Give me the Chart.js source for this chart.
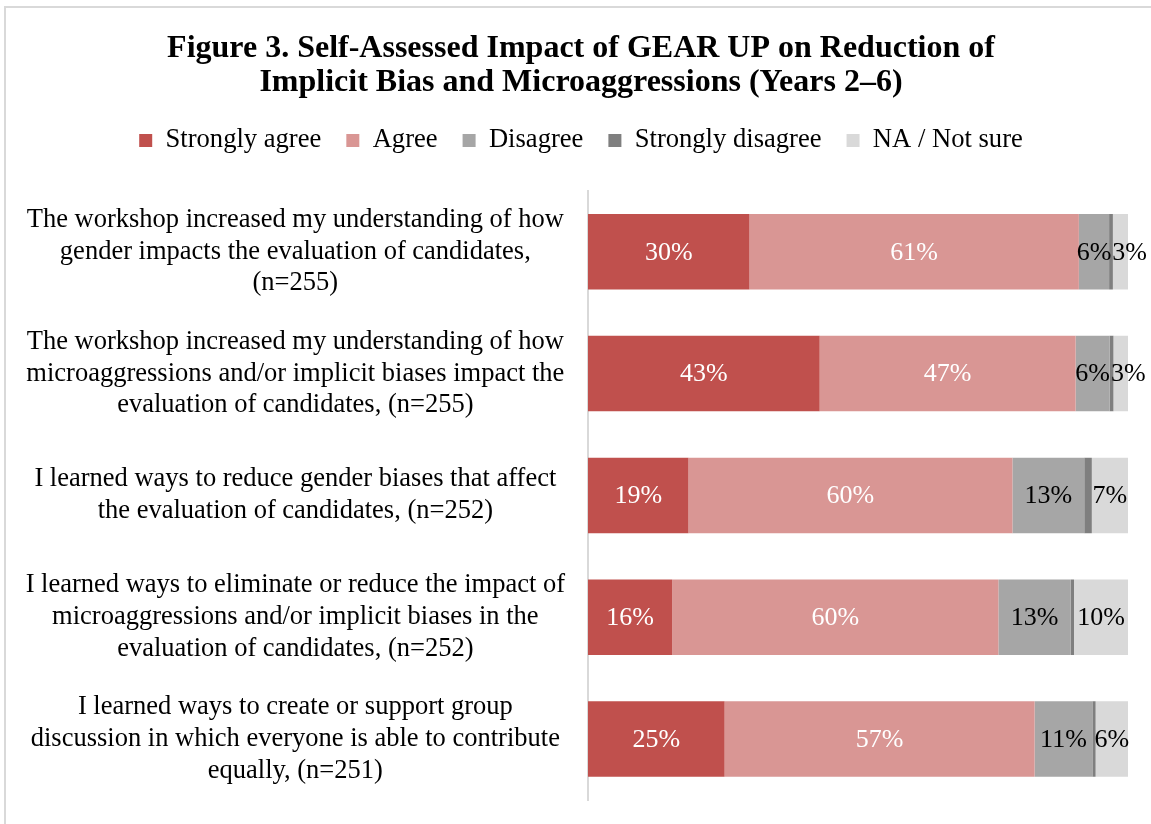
<!DOCTYPE html>
<html>
    <head>
        <meta http-equiv="Content-Type" content="text/html; charset=UTF-8">
        <title>Figure 3</title>
        <script src="https://cdn.jsdelivr.net/npm/chart.js@4.4.1/dist/chart.umd.min.js"></script>
        <style type="text/css">
            body {
                margin: 0;
                background: #ffffff;
            }
            .frame {
                position: absolute;
                left: 4px;
                top: 6px;
                width: 1200px;
                height: 900px;
                border-left: 2px solid #d9d9d9;
                border-top: 2px solid #d9d9d9;
            }
            .container {
                position: absolute;
                left: 0;
                top: 0;
                width: 1151px;
                height: 824px;
            }
        </style>
    </head>
    <body>
        <div class="frame"></div>
        <div class="container">
            <canvas id="impact" width="1151" height="824"></canvas>
        </div>

        <script>
            //questions (y axis), one entry per bar
            var questions = [
                ['The workshop increased my understanding of how', 'gender impacts the evaluation of candidates,', '(n=255)'],
                ['The workshop increased my understanding of how', 'microaggressions and/or implicit biases impact the', 'evaluation of candidates, (n=255)'],
                ['I learned ways to reduce gender biases that affect', 'the evaluation of candidates, (n=252)'],
                ['I learned ways to eliminate or reduce the impact of', 'microaggressions and/or implicit biases in the', 'evaluation of candidates, (n=252)'],
                ['I learned ways to create or support group', 'discussion in which everyone is able to contribute', 'equally, (n=251)']
            ];

            //percent of answers
            var stronglyAgree    = [29.9, 42.9, 18.6, 15.6, 25.3];
            var agree            = [61.0, 47.4, 60.0, 60.4, 57.4];
            var disagree         = [5.6, 6.3, 13.3, 13.4, 10.7];
            var stronglyDisagree = [0.7, 0.7, 1.4, 0.6, 0.6];
            var notSure          = [2.8, 2.7, 6.7, 10.0, 6.0];

            var serif = '"Liberation Serif", "Times New Roman", serif';

            //writes the rounded percent in the middle of each bar (not for strongly disagree)
            //a label that would run into the one before it is pushed to the right
            var barLabels = {
                id: 'barLabels',
                afterDatasetsDraw: function (chart) {
                    var ctx = chart.ctx;
                    ctx.save();
                    ctx.font = '26px ' + serif;
                    ctx.textAlign = 'center';
                    ctx.textBaseline = 'middle';
                    var rows = chart.data.labels.length;
                    for (var j = 0; j < rows; j++) {
                        var lastRight = -1;
                        chart.data.datasets.forEach(function (ds, i) {
                            if (!ds.showLabel) return;
                            var bar = chart.getDatasetMeta(i).data[j];
                            var text = Math.round(ds.data[j]) + '%';
                            var w = ctx.measureText(text).width;
                            var x = (bar.x + bar.base) / 2;
                            if (x - w / 2 < lastRight + 1) x = lastRight + 1 + w / 2;
                            ctx.fillStyle = ds.labelColor;
                            ctx.fillText(text, x, bar.y + 1);
                            lastRight = x + w / 2;
                        });
                    }
                    ctx.restore();
                }
            };

            //extra room between the legend and the bars,
            //and let the question labels use the space left of the padding
            var layoutTweaks = {
                id: 'layoutTweaks',
                beforeInit: function (chart) {
                    var fit = chart.legend.fit;
                    chart.legend.fit = function () {
                        fit.bind(chart.legend)();
                        this.height += 27;
                    };
                },
                afterLayout: function (chart) {
                    chart.scales.y.left = 0;
                }
            };

            var ctx = document.getElementById('impact').getContext('2d');
            var impactChart = new Chart(ctx, {
                type: 'bar',
                plugins: [barLabels, layoutTweaks],
                data: {
                    labels: questions,
                    datasets: [
                        { label: 'Strongly agree', data: stronglyAgree, backgroundColor: '#c0504d', showLabel: true, labelColor: '#ffffff' },
                        { label: 'Agree', data: agree, backgroundColor: '#d99694', showLabel: true, labelColor: '#ffffff' },
                        { label: 'Disagree', data: disagree, backgroundColor: '#a6a6a6', showLabel: true, labelColor: '#000000' },
                        { label: 'Strongly disagree', data: stronglyDisagree, backgroundColor: '#7f7f7f', showLabel: false },
                        { label: 'NA / Not sure', data: notSure, backgroundColor: '#d9d9d9', showLabel: true, labelColor: '#000000' }
                    ]
                },
                options: {
                    indexAxis: 'y',
                    responsive: false,
                    animation: false,
                    maintainAspectRatio: false,
                    categoryPercentage: 1,
                    barPercentage: 0.62,
                    layout: {
                        padding: { left: 34, right: 23, top: 32, bottom: 24 }
                    },
                    scales: {
                        x: {
                            stacked: true,
                            min: 0,
                            max: 100,
                            display: false
                        },
                        y: {
                            stacked: true,
                            grid: { display: false },
                            border: { display: true, color: '#d9d9d9', width: 2 },
                            ticks: {
                                color: '#000000',
                                crossAlign: 'center',
                                padding: 15,
                                font: { family: serif, size: 26.5, lineHeight: 1.2 }
                            },
                            afterFit: function (scale) {
                                scale.width = 554;
                                scale.paddingTop = 0;
                                scale.paddingBottom = 0;
                            }
                        }
                    },
                    plugins: {
                        tooltip: { enabled: false },
                        title: {
                            display: true,
                            text: ['Figure 3. Self-Assessed Impact of GEAR UP on Reduction of', 'Implicit Bias and Microaggressions (Years 2\u20136)'],
                            color: '#000000',
                            font: { family: serif, size: 32, weight: 'bold', lineHeight: 1.05 },
                            padding: { top: 0, bottom: 3 }
                        },
                        legend: {
                            position: 'top',
                            labels: {
                                color: '#000000',
                                boxWidth: 13,
                                boxHeight: 13,
                                padding: 25,
                                font: { family: serif, size: 26.6 }
                            }
                        }
                    }
                }
            });
        </script>
    </body>
</html>
